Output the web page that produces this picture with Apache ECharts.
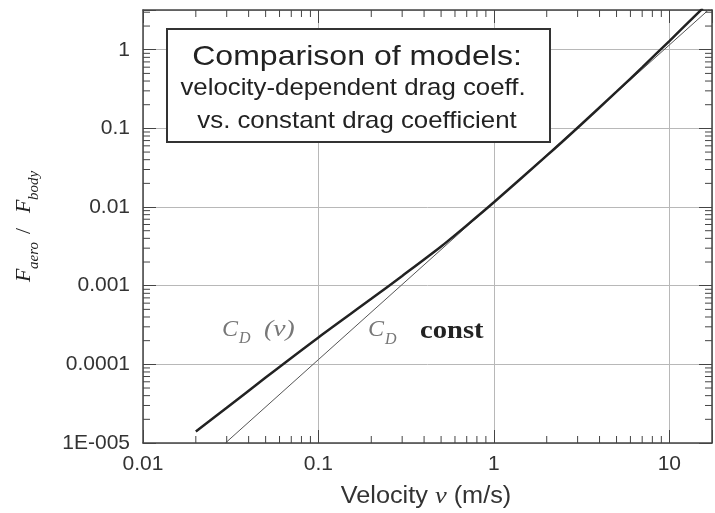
<!DOCTYPE html>
<html><head><meta charset="utf-8">
<script src="https://cdn.jsdelivr.net/npm/echarts@6/dist/echarts.min.js"></script>
<style>html,body{margin:0;padding:0;background:#fff}#c{width:715px;height:513px}</style>
</head><body><div id="c"></div>
<script>
// ---- data ----
const velocityCdVar = [0.02, 0.03, 0.05, 0.1, 0.2, 0.3, 0.5, 0.7, 1, 2, 3, 5, 7, 10, 14, 15.5];
const forceCdVar = [1.4e-5, 2.8e-5, 6.8e-5, 2.2e-4, 6.8e-4, 1.33e-3, 3.15e-3, 5.85e-3, 0.0115, 0.045, 0.102, 0.293, 0.597, 1.29, 2.7, 3.37];
const velocityCdConst = [0.0295, 0.1, 1, 10, 17];
const forceCdConst = [1.0e-5, 1.15e-4, 0.0115, 1.15, 3.32];
const xMajorTicks = [0.01, 0.1, 1, 10];
const xTickLabels = ['0.01', '0.1', '1', '10'];
const yMajorTicks = [1e-5, 1e-4, 1e-3, 0.01, 0.1, 1];
const yTickLabels = ['1E-005', '0.0001', '0.001', '0.01', '0.1', '1'];
const xMinorTicks = [0.02,0.03,0.04,0.05,0.06,0.07,0.08,0.09,0.2,0.3,0.4,0.5,0.6,0.7,0.8,0.9,2,3,4,5,6,7,8,9];
const yMinorTicks = [2e-5,3e-5,4e-5,5e-5,6e-5,7e-5,8e-5,9e-5,2e-4,3e-4,4e-4,5e-4,6e-4,7e-4,8e-4,9e-4,
  2e-3,3e-3,4e-3,5e-3,6e-3,7e-3,8e-3,9e-3,0.02,0.03,0.04,0.05,0.06,0.07,0.08,0.09,0.2,0.3,0.4,0.5,0.6,0.7,0.8,0.9,2,3];
const xRange = [0.01, 17.5];
const yRange = [1e-5, 3.2];

const chart = echarts.init(document.getElementById('c'));
const sans = 'Liberation Sans, Arial, sans-serif';
const serif = 'Liberation Serif, Times New Roman, serif';
const axisCol = '#444';
function labelFor(list, labels) {
  return function (val) {
    const i = list.findIndex(t => Math.abs(Math.log10(t) - Math.log10(val)) < 1e-6);
    return i >= 0 ? labels[i] : '';
  };
}
const baseAxis = {
  type: 'log', logBase: 10,
  axisLine: { show: true, lineStyle: { color: axisCol, width: 1.5 } },
  axisTick: { show: true, inside: true, length: 13, lineStyle: { color: axisCol, width: 1 } },
  splitLine: { show: false },
  minorTick: { show: false },
};
chart.setOption({
  animation: false,
  backgroundColor: '#fff',
  grid: { left: 143, right: 3, top: 10, bottom: 70 },
  xAxis: [
    Object.assign({}, baseAxis, {
      position: 'bottom', min: xRange[0], max: xRange[1],
      axisLabel: { formatter: labelFor(xMajorTicks, xTickLabels), fontSize: 21, fontFamily: sans, color: '#333', margin: 11 },
      splitLine: { show: true, lineStyle: { color: '#b8b8b8', width: 1 } }
    }),
    Object.assign({}, baseAxis, {
      position: 'top', min: xRange[0], max: xRange[1], axisLabel: { show: false }
    })
  ],
  yAxis: [
    Object.assign({}, baseAxis, {
      position: 'left', min: yRange[0], max: yRange[1],
      axisLabel: { formatter: labelFor(yMajorTicks, yTickLabels), fontSize: 21, fontFamily: sans, color: '#333', margin: 13 },
      splitLine: { show: true, lineStyle: { color: '#b8b8b8', width: 1 } }
    }),
    Object.assign({}, baseAxis, {
      position: 'right', min: yRange[0], max: yRange[1], axisLabel: { show: false }
    })
  ],
  series: [
    {
      type: 'line', name: 'CD const', showSymbol: false, z: 3,
      data: velocityCdConst.map((v, i) => [v, forceCdConst[i]]),
      lineStyle: { color: '#555', width: 1 }
    },
    {
      type: 'line', name: 'CD(v)', showSymbol: false, smooth: 0.3, z: 4,
      data: velocityCdVar.map((v, i) => [v, forceCdVar[i]]),
      lineStyle: { color: '#222', width: 2.5 }
    },
    {
      type: 'custom', silent: true, z: 6,
      data: xMinorTicks.map(v => [v, 1]),
      renderItem: function (params, api) {
        const x = api.coord([api.value(0), 1])[0];
        const r = params.coordSys;
        const st = { stroke: axisCol, lineWidth: 1 };
        return { type: 'group', children: [
          { type: 'line', shape: { x1: x, y1: r.y + r.height, x2: x, y2: r.y + r.height - 7 }, style: st },
          { type: 'line', shape: { x1: x, y1: r.y, x2: x, y2: r.y + 7 }, style: st }
        ] };
      }
    },
    {
      type: 'custom', silent: true, z: 6,
      data: yMinorTicks.map(v => [1, v]),
      renderItem: function (params, api) {
        const y = api.coord([1, api.value(1)])[1];
        const r = params.coordSys;
        const st = { stroke: axisCol, lineWidth: 1 };
        return { type: 'group', children: [
          { type: 'line', shape: { x1: r.x, y1: y, x2: r.x + 7, y2: y }, style: st },
          { type: 'line', shape: { x1: r.x + r.width, y1: y, x2: r.x + r.width - 7, y2: y }, style: st }
        ] };
      }
    }
  ],
  graphic: [
    { type: 'rect', left: 166, top: 28, z: 20, shape: { width: 383, height: 113 },
      style: { fill: '#fff', stroke: '#333', lineWidth: 2 } },
    { type: 'text', x: 357, y: 57, z: 21, scaleX: 1.145,
      style: { text: 'Comparison of models:', align: 'center', verticalAlign: 'middle', fontSize: 28, fontFamily: sans, fill: '#222' } },
    { type: 'text', x: 353, y: 88, z: 21, scaleX: 1.075,
      style: { text: 'velocity-dependent drag coeff.', align: 'center', verticalAlign: 'middle', fontSize: 24, fontFamily: sans, fill: '#222' } },
    { type: 'text', x: 357, y: 121, z: 21, scaleX: 1.075,
      style: { text: 'vs. constant drag coefficient', align: 'center', verticalAlign: 'middle', fontSize: 24, fontFamily: sans, fill: '#222' } },
    // x axis title
    { type: 'text', x: 426, y: 497, z: 21, scaleX: 1.1,
      style: { text: '{a|Velocity }{b|v}{a| (m/s)}', align: 'center', verticalAlign: 'middle',
        rich: { a: { fontSize: 23, fontFamily: sans, fill: '#333' }, b: { fontSize: 24, fontFamily: serif, fontStyle: 'italic', fill: '#333' } } } },
    // y axis title (rotated)
    { type: 'group', x: 24, y: 225, rotation: Math.PI / 2, z: 21, children: [
      { type: 'text', x: -57, y: 0, style: { text: 'F', fontSize: 22, fontFamily: serif, fontStyle: 'italic', fill: '#222', verticalAlign: 'middle' } },
      { type: 'text', x: -44, y: 10, style: { text: 'aero', fontSize: 15, fontFamily: serif, fontStyle: 'italic', fill: '#222', verticalAlign: 'middle' } },
      { type: 'text', x: -9, y: 0, style: { text: '/', fontSize: 22, fontFamily: serif, fill: '#222', verticalAlign: 'middle' } },
      { type: 'text', x: 12, y: 0, style: { text: 'F', fontSize: 22, fontFamily: serif, fontStyle: 'italic', fill: '#222', verticalAlign: 'middle' } },
      { type: 'text', x: 25, y: 10, style: { text: 'body', fontSize: 15, fontFamily: serif, fontStyle: 'italic', fill: '#222', verticalAlign: 'middle' } }
    ] },
    // curve labels
    { type: 'text', x: 222, y: 330, z: 21, style: { text: 'C', fontSize: 24, fontFamily: serif, fontStyle: 'italic', fill: '#777', verticalAlign: 'middle' } },
    { type: 'text', x: 239, y: 339, z: 21, style: { text: 'D', fontSize: 16, fontFamily: serif, fontStyle: 'italic', fill: '#777', verticalAlign: 'middle' } },
    { type: 'text', x: 264, y: 330, z: 21, scaleX: 1.15, style: { text: '(v)', fontSize: 24, fontFamily: serif, fontStyle: 'italic', fill: '#777', verticalAlign: 'middle' } },
    { type: 'text', x: 368, y: 330, z: 21, style: { text: 'C', fontSize: 24, fontFamily: serif, fontStyle: 'italic', fill: '#777', verticalAlign: 'middle' } },
    { type: 'text', x: 385, y: 340, z: 21, style: { text: 'D', fontSize: 16, fontFamily: serif, fontStyle: 'italic', fill: '#777', verticalAlign: 'middle' } },
    { type: 'text', x: 420, y: 331, z: 21, scaleX: 1.1, style: { text: 'const', fontSize: 26, fontFamily: serif, fontWeight: 'bold', fill: '#222', verticalAlign: 'middle' } }
  ]
});
</script>
</body></html>
